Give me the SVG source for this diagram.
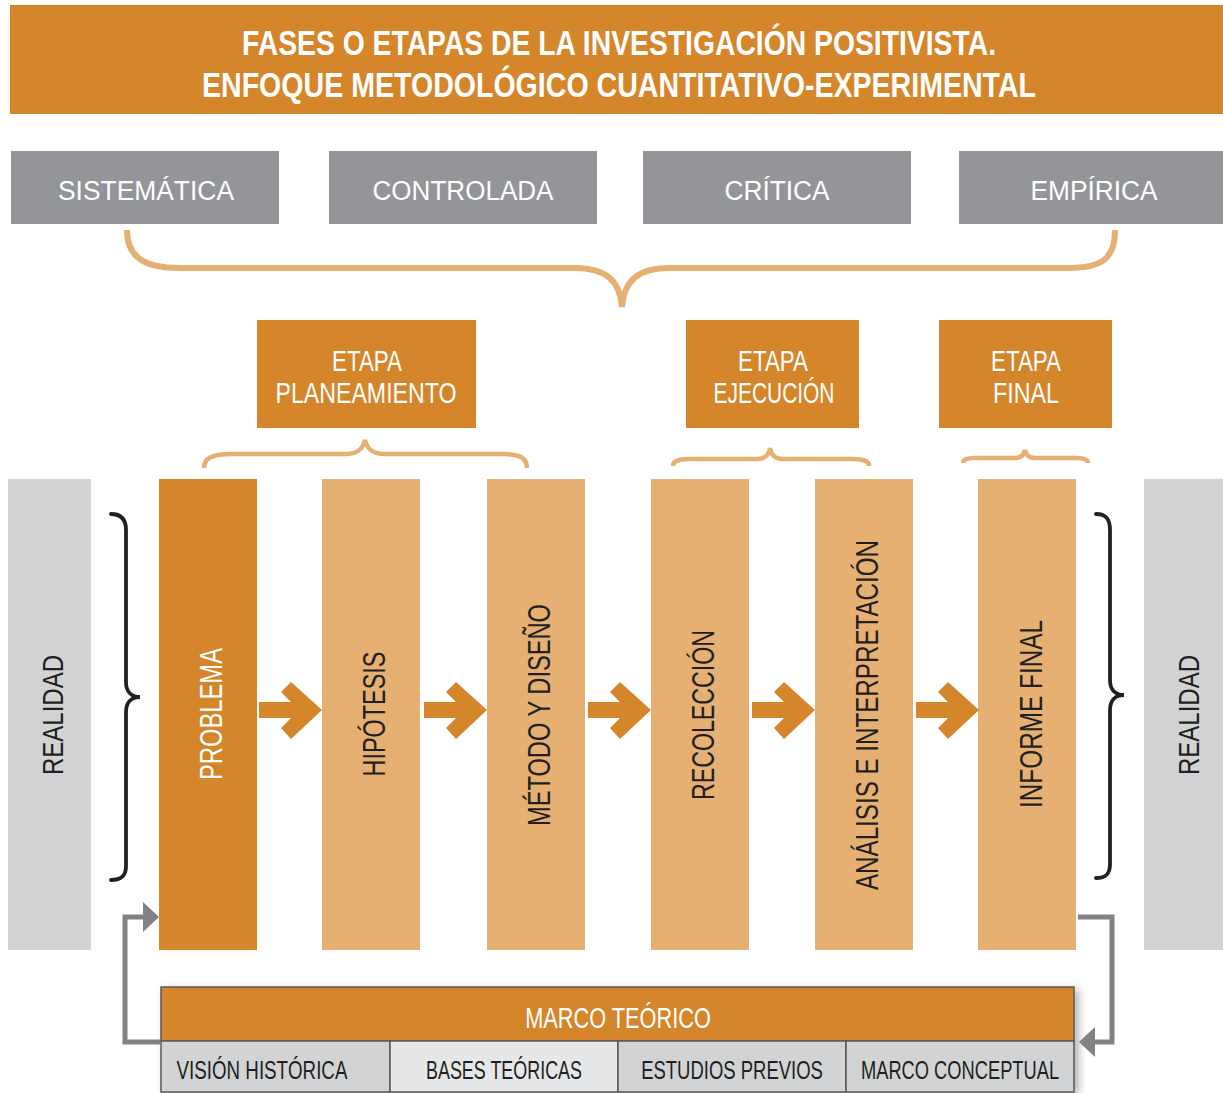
<svg xmlns="http://www.w3.org/2000/svg" width="1223" height="1093" viewBox="0 0 1223 1093">
<style>
.t{font-family:"Liberation Sans Narrow","Liberation Sans",Arial,sans-serif;text-anchor:middle}
.w{fill:#ffffff}
.d{fill:#231f20}
.dark{fill:#d6862a}
.light{fill:#e5b071}
.grayb{fill:#939598}
.real{fill:#d1d3d4}
.brace{fill:none;stroke:#e5b071;stroke-linecap:butt}
.bb{fill:none;stroke:#231f20;stroke-width:3.8;stroke-linecap:round}
.conn{fill:none;stroke:#808285;stroke-width:5}
.arr{fill:#d6862a}
</style>
<defs>
<filter id="sh" x="-5%" y="-20%" width="115%" height="150%">
<feDropShadow dx="4" dy="3" stdDeviation="4" flood-color="#000" flood-opacity="0.3"/>
</filter>
<polygon id="ar" points="0,-8 32,-8 22,-18 32,-28 63,0 32,29 22,18 32,8 0,8"/>
</defs>

<g id="title">
<rect x="10" y="5" width="1213" height="109" class="dark"/>
<text class="t w" x="619" y="55" font-size="35" font-weight="bold" textLength="754" lengthAdjust="spacingAndGlyphs">FASES O ETAPAS DE LA INVESTIGACIÓN POSITIVISTA.</text>
<text class="t w" x="619" y="97" font-size="35" font-weight="bold" textLength="834" lengthAdjust="spacingAndGlyphs">ENFOQUE METODOLÓGICO CUANTITATIVO-EXPERIMENTAL</text>
</g>

<g id="sistematica"><rect x="11" y="151" width="268" height="73" class="grayb"/><text class="t w" x="146" y="200" font-size="27" textLength="176" lengthAdjust="spacingAndGlyphs">SISTEMÁTICA</text></g>
<g id="controlada"><rect x="329" y="151" width="268" height="73" class="grayb"/><text class="t w" x="463" y="200" font-size="27" textLength="181" lengthAdjust="spacingAndGlyphs">CONTROLADA</text></g>
<g id="critica"><rect x="643" y="151" width="268" height="73" class="grayb"/><text class="t w" x="777" y="200" font-size="27" textLength="105" lengthAdjust="spacingAndGlyphs">CRÍTICA</text></g>
<g id="empirica"><rect x="959" y="151" width="264" height="73" class="grayb"/><text class="t w" x="1094" y="200" font-size="27" textLength="127" lengthAdjust="spacingAndGlyphs">EMPÍRICA</text></g>

<g id="etapa-planeamiento"><rect x="257" y="320" width="219" height="108" class="dark"/>
<text class="t w" x="367" y="371" font-size="30" textLength="70" lengthAdjust="spacingAndGlyphs">ETAPA</text>
<text class="t w" x="366" y="403" font-size="30" textLength="181" lengthAdjust="spacingAndGlyphs">PLANEAMIENTO</text></g>
<g id="etapa-ejecucion"><rect x="686" y="320" width="173" height="108" class="dark"/>
<text class="t w" x="773" y="371" font-size="30" textLength="70" lengthAdjust="spacingAndGlyphs">ETAPA</text>
<text class="t w" x="774" y="403" font-size="30" textLength="121" lengthAdjust="spacingAndGlyphs">EJECUCIÓN</text></g>
<g id="etapa-final"><rect x="939" y="320" width="173" height="108" class="dark"/>
<text class="t w" x="1026" y="371" font-size="30" textLength="70" lengthAdjust="spacingAndGlyphs">ETAPA</text>
<text class="t w" x="1026" y="403" font-size="30" textLength="66" lengthAdjust="spacingAndGlyphs">FINAL</text></g>

<g id="realidad-izq"><rect x="8" y="479" width="83" height="471" class="real"/>
<text class="t d" transform="translate(63,715) rotate(-90)" font-size="30" textLength="120" lengthAdjust="spacingAndGlyphs">REALIDAD</text></g>
<g id="realidad-der"><rect x="1144" y="479" width="79" height="471" class="real"/>
<text class="t d" transform="translate(1199,715) rotate(-90)" font-size="30" textLength="120" lengthAdjust="spacingAndGlyphs">REALIDAD</text></g>

<g id="problema"><rect x="159" y="479" width="98" height="471" class="dark"/>
<text class="t w" transform="translate(222,714) rotate(-90)" font-size="31" textLength="132" lengthAdjust="spacingAndGlyphs">PROBLEMA</text></g>
<g id="hipotesis"><rect x="322" y="479" width="98" height="471" class="light"/>
<text class="t d" transform="translate(385,714) rotate(-90)" font-size="31" textLength="125" lengthAdjust="spacingAndGlyphs">HIPÓTESIS</text></g>
<g id="metodo"><rect x="487" y="479" width="98" height="471" class="light"/>
<text class="t d" transform="translate(550,715) rotate(-90)" font-size="31" textLength="222" lengthAdjust="spacingAndGlyphs">MÉTODO Y DISEÑO</text></g>
<g id="recoleccion"><rect x="651" y="479" width="98" height="471" class="light"/>
<text class="t d" transform="translate(714,715) rotate(-90)" font-size="31" textLength="170" lengthAdjust="spacingAndGlyphs">RECOLECCIÓN</text></g>
<g id="analisis"><rect x="815" y="479" width="98" height="471" class="light"/>
<text class="t d" transform="translate(878,715) rotate(-90)" font-size="31" textLength="350" lengthAdjust="spacingAndGlyphs">ANÁLISIS  E  INTERPRETACIÓN</text></g>
<g id="informe"><rect x="978" y="479" width="98" height="471" class="light"/>
<text class="t d" transform="translate(1042,714) rotate(-90)" font-size="31" textLength="188" lengthAdjust="spacingAndGlyphs">INFORME FINAL</text></g>

<g id="marco-teorico" filter="url(#sh)">
<rect x="161" y="987" width="913" height="54" class="dark" stroke="#58595b" stroke-width="1.5"/>
<rect x="161" y="1041" width="229" height="51" fill="#d1d3d4" stroke="#58595b" stroke-width="1.5"/>
<rect x="390" y="1041" width="228" height="51" fill="#e6e7e8" stroke="#58595b" stroke-width="1.5"/>
<rect x="618" y="1041" width="228" height="51" fill="#d1d3d4" stroke="#58595b" stroke-width="1.5"/>
<rect x="846" y="1041" width="228" height="51" fill="#d1d3d4" stroke="#58595b" stroke-width="1.5"/>
</g>
<g id="marco-textos">
<text class="t w" transform="translate(618,1028) scale(0.8,1)" font-size="30" textLength="232" lengthAdjust="spacingAndGlyphs">MARCO TEÓRICO</text>
<text class="t d" transform="translate(262,1079) scale(0.78,1)" font-size="26" textLength="219" lengthAdjust="spacingAndGlyphs">VISIÓN HISTÓRICA</text>
<text class="t d" transform="translate(504,1079) scale(0.78,1)" font-size="26" textLength="200" lengthAdjust="spacingAndGlyphs">BASES TEÓRICAS</text>
<text class="t d" transform="translate(732,1079) scale(0.78,1)" font-size="26" textLength="233" lengthAdjust="spacingAndGlyphs">ESTUDIOS PREVIOS</text>
<text class="t d" transform="translate(960,1079) scale(0.78,1)" font-size="26" textLength="254" lengthAdjust="spacingAndGlyphs">MARCO CONCEPTUAL</text>
</g>

<g id="connectors">
<path class="brace" stroke-width="6" d="M127,230 C127,258 145,268 180,268 L575,268 C605,268 620,280 622,307 C624,280 639,268 669,268 L1068,268 C1103,268 1115,258 1115,230"/>
<path class="brace" stroke-width="4.5" d="M204,468 C204,458 212,454 232,454 L345,454 C358,454 363,449 365,440 C367,449 372,454 385,454 L502,454 C520,454 527,458 527,468"/>
<path class="brace" stroke-width="4.5" d="M673,466 C673,461 678,459 690,459 L757,459 C765,459 769,455 770,448 C771,455 775,459 783,459 L852,459 C864,459 869,461 869,466"/>
<path class="brace" stroke-width="4.5" d="M963,463 C963,460 966,458 975,458 L1015,458 C1021,458 1024,455 1025,450 C1026,455 1029,458 1035,458 L1076,458 C1085,458 1088,460 1088,463"/>
<path class="bb" d="M111,514 C121,514 126,519 126,530 L126,682 C126,691 131,697 140,697 C131,697 126,703 126,712 L126,866 C126,876 121,880 111,880"/>
<path class="bb" d="M1096,514 C1106,514 1110,519 1110,530 L1110,680 C1110,689 1115,695 1124,695 C1115,695 1110,701 1110,710 L1110,864 C1110,874 1106,878 1096,878"/>
<use href="#ar" class="arr" x="259" y="710"/>
<use href="#ar" class="arr" x="424" y="710"/>
<use href="#ar" class="arr" x="588" y="710"/>
<use href="#ar" class="arr" x="752" y="710"/>
<use href="#ar" class="arr" x="916" y="710"/>
<path class="conn" d="M160,1042 L125,1042 L125,917 L144,917"/>
<polygon fill="#808285" points="143,902 159,917 143,932"/>
<path class="conn" d="M1078,917 L1112,917 L1112,1042 L1094,1042"/>
<polygon fill="#808285" points="1095,1027 1079,1042 1095,1057"/>
</g>
</svg>
